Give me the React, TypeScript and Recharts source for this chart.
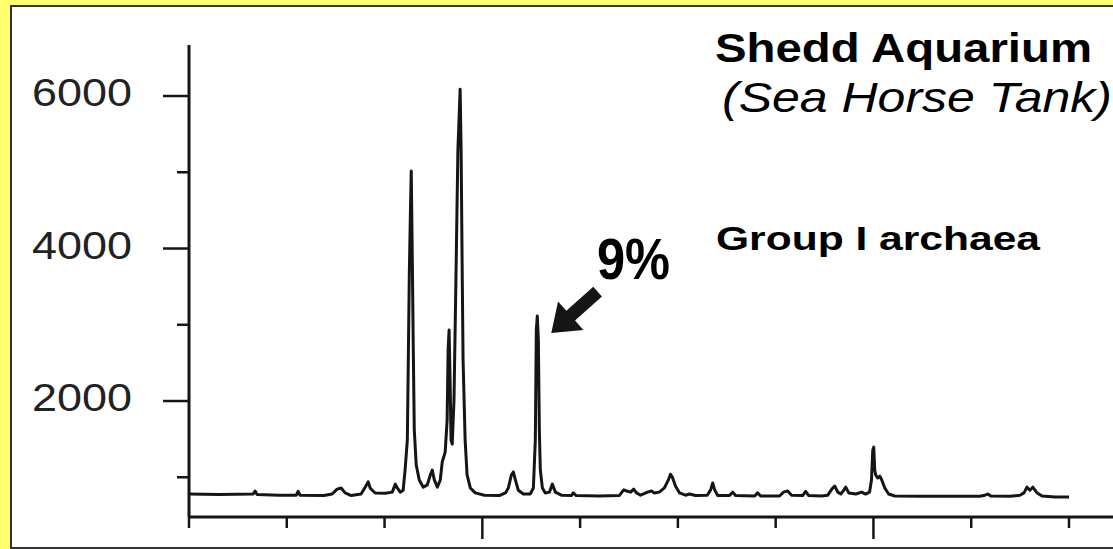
import React from 'react';
import { LineChart, Line, XAxis, YAxis, ReferenceDot } from 'recharts';

// electropherogram trace (x in scan units, y in fluorescence units)
const scanPos = [
  0, 30.7, 65.5, 67.6, 69.6, 92, 109.6, 111.6, 113.6, 138, 146.4, 151.5, 155.6, 159.7, 165.9,
  176, 180.2, 183.3, 185.3, 187.4, 190.4, 200.7, 207.9, 211, 213, 216, 219, 221, 223.3, 224.3,
  225.3, 226.3, 227.3, 228.4, 229.4, 230.4, 232.4, 235.5, 239.6, 243.7, 246.8, 248.8, 250.9, 254,
  257, 259, 262, 264, 265, 266, 267, 268, 269.2, 271, 273, 275, 277.3, 278.3, 279.3, 280.3,
  282.4, 284.4, 287.7, 292.8, 302, 317.4, 323.6, 326.6, 329.7, 331.7, 333.8, 336.8, 342, 349,
  352.2, 354.2, 355.2, 356.2, 357.3, 358.3, 359.3, 361.4, 364.4, 368.6, 371.6, 374.7, 380.8, 391,
  393, 396, 419.8, 440, 444.6, 447.6, 451.7, 454.8, 457.7, 461.8, 469, 473, 476, 481, 486.2,
  490.3, 492.4, 494.4, 497.5, 501.7, 507.8, 511.9, 518, 530, 533.5, 535.6, 537.6, 540.7, 552.8,
  556, 559, 578.5, 581.5, 584.6, 604, 608, 612.3, 616.3, 627.6, 630.7, 633.8, 647, 653.3, 657.4,
  660.4, 663.5, 666.6, 669.6, 671.7, 674.7, 682, 688, 692, 696, 698, 699.3, 700.3, 701.3, 702.3,
  704.3, 706.5, 708.5, 711.6, 715.6, 721.8, 747.4, 778, 808.8, 814, 817, 820, 839.6, 849.8, 854,
  857, 860, 863, 867.3, 872.4, 885.8, 900,
];
const signal = [
  780, 775, 780, 820, 775, 765, 765, 815, 765, 760, 780, 845, 860, 795, 760,
  780, 870, 940, 860, 830, 795, 790, 805, 910, 860, 805, 830, 1095, 1490, 2540,
  3650, 4375, 5015, 3850, 2670, 1620, 1160, 965, 870, 900, 1030, 1095, 965, 870,
  965, 1200, 1330, 1750, 2670, 2930, 2280, 1490, 1435, 2010, 3590, 5290, 6090, 5290, 3850, 2540,
  1490, 1030, 860, 795, 765, 760, 795, 860, 1030, 1070, 965, 830, 780, 780,
  860, 1490, 2930, 3115, 2800, 1620, 1095, 860, 795, 805, 910, 805, 765, 760,
  795, 760, 755, 760, 835, 820, 805, 845, 795, 765, 805, 820, 795, 805, 860,
  965, 1040, 1000, 885, 795, 765, 780, 760, 765, 835, 925, 835, 760, 760,
  805, 760, 755, 795, 755, 755, 805, 820, 765, 760, 815, 760, 755, 765, 845,
  885, 805, 780, 830, 870, 795, 780, 805, 780, 805, 965, 1355, 1395, 1095, 1030,
  990, 1015, 965, 860, 780, 755, 750, 750, 750, 765, 780, 755, 750, 765, 795,
  870, 830, 870, 795, 755, 740, 740,
];

const xTicks = [0, 100, 200, 300, 400, 500, 600, 700, 800, 900];
const xMajor = [300, 700];
const yTicks = [1000, 2000, 3000, 4000, 5000, 6000];
const yLabels = [2000, 4000, 6000];

// the 9% peak the arrow points at
const markedPeak = { x: 356.2, y: 3115 };

const data = scanPos.map((x, i) => ({ x, v: signal[i] }));

const INK = '#151515';

const YTick = (props: any) => {
  const { x, y, payload } = props;
  const labeled = yLabels.includes(payload.value);
  const len = labeled ? 26 : 12;
  return (
    <g>
      <line x1={x - len} y1={y} x2={x} y2={y} stroke={INK} strokeWidth={2.5} />
      {labeled && (
        <text
          x={x - 57}
          y={y + 10}
          textAnchor="end"
          fontFamily="'Liberation Sans', Arial, sans-serif"
          fontSize={39}
          fill="#222"
          textLength={100}
          lengthAdjust="spacingAndGlyphs"
        >
          {payload.value}
        </text>
      )}
    </g>
  );
};

const XTick = (props: any) => {
  const { x, y, payload } = props;
  const len = xMajor.includes(payload.value) ? 22 : 11;
  return <line x1={x} y1={y} x2={x} y2={y + len} stroke={INK} strokeWidth={2.5} />;
};

const Arrow = (props: any) => {
  const { cx, cy } = props;
  const tx = cx + 14;
  const ty = cy + 17;
  const u = [0.747, -0.666];
  const n = [0.666, 0.747];
  const at = (l: number, w: number) => `${tx + l * u[0] + w * n[0]},${ty + l * u[1] + w * n[1]}`;
  const pts = [at(0, 0), at(26, 19), at(26, 6.5), at(62, 6.5), at(62, -6.5), at(26, -6.5), at(26, -19)];
  return <polygon points={pts.join(' ')} fill={INK} />;
};

const App = () => {
  return (
    <div style={{ position: 'relative', width: 1113, height: 549, background: '#ffff70', overflow: 'hidden' }}>
      <style>{'body{margin:0}'}</style>
      <div
        style={{
          position: 'absolute',
          left: 10,
          top: 5,
          width: 1113,
          height: 544,
          boxSizing: 'border-box',
          background: '#fff',
          border: '2px solid #333',
        }}
      />
      <div style={{ position: 'absolute', left: 0, top: 0 }}>
        <LineChart width={1113} height={549} data={data} margin={{ top: 45, right: 0, bottom: 0, left: 0 }}>
          <XAxis
            dataKey="x"
            type="number"
            domain={[0, 945]}
            ticks={xTicks}
            allowDataOverflow
            height={32}
            axisLine={{ stroke: INK, strokeWidth: 3 }}
            tickLine={false}
            tickSize={0}
            tickMargin={0}
            tick={<XTick />}
            interval={0}
          />
          <YAxis
            type="number"
            domain={[479, 6669]}
            ticks={yTicks}
            allowDataOverflow
            width={189}
            axisLine={{ stroke: INK, strokeWidth: 3 }}
            tickLine={false}
            tickSize={0}
            tickMargin={0}
            tick={<YTick />}
            interval={0}
          />
          <Line
            type="linear"
            dataKey="v"
            stroke={INK}
            strokeWidth={3}
            strokeLinejoin="round"
            dot={false}
            isAnimationActive={false}
          />
          <ReferenceDot x={markedPeak.x} y={markedPeak.y} shape={<Arrow />} />
        </LineChart>
      </div>
      <svg
        width={1113}
        height={549}
        style={{ position: 'absolute', left: 0, top: 0, pointerEvents: 'none' }}
        fontFamily="'Liberation Sans', Arial, sans-serif"
      >
        <text x={715} y={62} fontSize={40} fontWeight="bold" fill="#000" textLength={377} lengthAdjust="spacingAndGlyphs">
          Shedd Aquarium
        </text>
        <text x={722} y={112} fontSize={43} fontStyle="italic" fill="#000" textLength={390} lengthAdjust="spacingAndGlyphs">
          (Sea Horse Tank)
        </text>
        <text x={716} y={250} fontSize={34} fontWeight="bold" fill="#000" textLength={324} lengthAdjust="spacingAndGlyphs">
          Group I archaea
        </text>
        <text x={597} y={279} fontSize={58} fontWeight="bold" fill="#000" textLength={73} lengthAdjust="spacingAndGlyphs">
          9%
        </text>
      </svg>
    </div>
  );
};

export default App;
